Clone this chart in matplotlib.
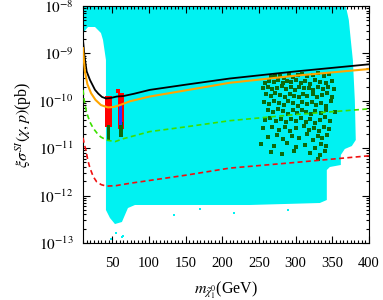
import numpy as np
import matplotlib
matplotlib.use("Agg")
import matplotlib.pyplot as plt
from matplotlib.ticker import MultipleLocator, LogLocator, FixedLocator, NullFormatter

plt.rcParams['font.family'] = ['Liberation Serif', 'DejaVu Serif']
plt.rcParams['mathtext.fontset'] = 'stix'

# ---------------- data (mass in GeV, log10 of sigma in pb) ----------------
# allowed scan region (cyan) outline
region_mass = [10, 368.4, 372.5, 375.2, 378.0, 380.7, 382.0, 376.6, 367.0, 361.6, 361.6,
               346.6, 342.5, 342.5, 333.0, 237.6, 142.2, 80.9, 71.3, 63.1, 53.6, 46.8,
               41.3, 41.3, 37.3, 34.5, 26.4, 16.8, 10]
region_logsig = [-8.0, -8.0, -8.295, -8.717, -9.139, -9.983, -10.827, -10.954, -11.017,
                 -11.143, -11.354, -11.397, -11.46, -12.093, -12.156, -12.198, -12.198,
                 -12.198, -12.262, -12.557, -12.60, -12.473, -12.304, -9.139, -8.717,
                 -8.57, -8.443, -8.443, -8.57]
# isolated scan points below the region
stray_mass = [48.0, 54.5, 63.0, 64.5, 133.5, 216.0, 170.0, 290.0]
stray_logsig = [-12.92, -12.78, -12.87, -12.85, -12.40, -12.36, -12.28, -12.30]

# experimental limits
black_mass = [10, 12, 15, 19.5, 26.4, 30.9, 36, 41.3, 48, 55.9, 65, 80, 101, 150, 210, 300, 400]
black_logsig = [-8.72, -9.05, -9.38, -9.56, -9.77, -9.85, -9.92, -9.95, -9.94, -9.91, -9.90,
                -9.85, -9.77, -9.66, -9.53, -9.38, -9.23]

orange_mass = [10, 11.5, 12.7, 16, 21, 27, 34.5, 44, 52, 60.4, 74, 101, 150, 210, 300, 400]
orange_logsig = [-8.89, -9.20, -9.39, -9.65, -9.84, -9.98, -10.09, -10.14, -10.13, -10.09,
                 -10.01, -9.91, -9.78, -9.62, -9.47, -9.33]

green_mass = [10, 12, 15, 19.5, 24, 29, 34, 42, 54, 65, 101, 150, 210, 300, 400]
green_logsig = [-9.77, -10.02, -10.25, -10.45, -10.58, -10.68, -10.76, -10.83, -10.86, -10.80,
                -10.65, -10.55, -10.42, -10.29, -10.17]

red_mass = [10, 12, 14, 16.5, 19.5, 24, 28.7, 35, 42, 55, 74, 101, 150, 210, 300, 400]
red_logsig = [-10.78, -10.93, -11.04, -11.25, -11.42, -11.60, -11.71, -11.77, -11.80, -11.79,
              -11.74, -11.68, -11.57, -11.42, -11.30, -11.16]

# funnel-region point clusters (vertical bands): mass, low, high
band_mass = [44.7, 61.4]
band_red_low = [-10.55, -10.60]
band_red_high = [-9.90, -9.83]
band_blue_low = [-10.51]
band_blue_high = [-10.09]
band_green_low = [-10.83, -10.76]
band_green_high = [-10.51, -10.45]
red_dot_mass = [57.7]
red_dot_logsig = [-9.79]

# dark green heavy-neutralino points
dg_mass = [266, 272, 279, 284, 291, 297, 303, 309, 316, 323, 330, 338, 346,
           258, 264, 270, 276, 283, 288, 294, 300, 307, 313, 320, 326, 333, 341, 349,
           255, 262, 268, 274, 281, 287, 293, 299, 305, 311, 318, 324, 331, 337, 344, 352,
           260, 266, 272, 279, 285, 292, 298, 304, 310, 316, 323, 329, 336, 343, 350,
           257, 264, 271, 277, 284, 290, 296, 303, 309, 315, 322, 328, 335, 342, 348,
           262, 269, 276, 283, 289, 296, 302, 308, 314, 321, 327, 334, 341, 353,
           258, 265, 273, 280, 287, 294, 301, 307, 314, 320, 327, 333, 340, 347,
           255, 268, 277, 285, 292, 300, 311, 318, 325, 332, 338, 345,
           262, 274, 283, 295, 305, 316, 323, 330, 336, 343,
           253, 270, 288, 300, 313, 326, 334, 341,
           266, 282, 298, 320, 333, 340, 331]
dg_logsig = [-9.50, -9.45, -9.47, -9.52, -9.44, -9.49, -9.46, -9.43, -9.48, -9.45, -9.42, -9.47, -9.44,
             -9.62, -9.58, -9.60, -9.56, -9.63, -9.58, -9.61, -9.57, -9.62, -9.59, -9.64, -9.57, -9.60, -9.63, -9.58,
             -9.74, -9.70, -9.76, -9.72, -9.69, -9.75, -9.71, -9.77, -9.70, -9.74, -9.72, -9.78, -9.71, -9.75, -9.70, -9.76,
             -9.86, -9.90, -9.84, -9.88, -9.92, -9.85, -9.89, -9.93, -9.86, -9.90, -9.85, -9.92, -9.88, -9.84, -9.91,
             -10.02, -10.06, -10.00, -10.04, -10.09, -10.01, -10.05, -10.10, -10.03, -10.07, -10.02, -10.08, -10.04, -10.10, -10.01,
             -10.20, -10.24, -10.18, -10.22, -10.27, -10.20, -10.25, -10.19, -10.23, -10.28, -10.21, -10.26, -10.19, -10.24,
             -10.40, -10.36, -10.43, -10.38, -10.45, -10.39, -10.42, -10.36, -10.44, -10.38, -10.46, -10.40, -10.35, -10.43,
             -10.58, -10.55, -10.61, -10.56, -10.63, -10.58, -10.54, -10.62, -10.57, -10.64, -10.55, -10.60,
             -10.76, -10.72, -10.80, -10.74, -10.78, -10.71, -10.82, -10.75, -10.79, -10.73,
             -10.92, -10.95, -10.90, -10.97, -10.93, -10.99, -10.91, -10.96,
             -11.08, -11.12, -11.06, -11.10, -11.14, -11.05, -11.22]

xticks = [50, 100, 150, 200, 250, 300, 350, 400]
yticks = [1e-13, 1e-12, 1e-11, 1e-10, 1e-9, 1e-8]
ytick_labels = [r'$10^{-13}$', r'$10^{-12}$', r'$10^{-11}$', r'$10^{-10}$', r'$10^{-9}$', r'$10^{-8}$']

def p(v):
    return 10.0 ** np.asarray(v)

# ---------------- figure ----------------
fig = plt.figure(figsize=(3.83, 3.0), dpi=100)
ax = fig.add_axes([0.2167, 0.19, 0.7467, 0.79])
ax.set_yscale('log')

cyan = '#00F2F2'
ax.fill(region_mass, p(region_logsig), color=cyan, lw=0, zorder=1)
ax.scatter(stray_mass, p(stray_logsig), s=4, color=cyan, marker='s', lw=0, zorder=1)

ax.scatter(dg_mass, p(dg_logsig), s=5, color='#0D6A0D', marker='s', lw=0, zorder=2)

ax.plot(black_mass, p(black_logsig), color='black', lw=1.3, zorder=4)
ax.plot(orange_mass, p(orange_logsig), color='#FFA500', lw=1.5, zorder=4)
ax.plot(green_mass, p(green_logsig), color='#3CE000', lw=1.2, ls=(0, (3, 2)), zorder=4)
ax.plot(red_mass, p(red_logsig), color='#F01010', lw=1.2, ls=(0, (3, 2)), zorder=4)

lo = p(band_red_low); hi = p(band_red_high)
ax.bar(band_mass, hi - lo, bottom=lo, width=8.5, color='red', lw=0, zorder=3)
lo = p(band_green_low); hi = p(band_green_high)
ax.bar(band_mass, hi - lo, bottom=lo, width=5.0, color='#0D6A0D', lw=0, zorder=3)
lo = p(band_blue_low); hi = p(band_blue_high)
ax.bar(band_mass[1:], hi - lo, bottom=lo, width=4.5, color='#1E3CFF', lw=0, zorder=3)
ax.scatter(red_dot_mass, p(red_dot_logsig), s=6, color='red', marker='s', lw=0, zorder=3)

ax.set_xlim(10, 400)
ax.set_ylim(1e-13, 1e-8)

ax.set_xticks(xticks)
ax.set_xticklabels([str(t) for t in xticks], fontsize=10.5)
ax.xaxis.set_minor_locator(MultipleLocator(5))
ax.yaxis.set_major_locator(FixedLocator(yticks))
ax.set_yticklabels(ytick_labels, fontsize=11)
ax.yaxis.set_minor_locator(LogLocator(base=10, subs=np.arange(2, 10)))
ax.yaxis.set_minor_formatter(NullFormatter())
ax.tick_params(which='both', direction='in', top=True, right=True, width=0.8)
ax.tick_params(which='major', length=5)
ax.tick_params(axis='x', which='major', pad=10)
ax.tick_params(axis='y', which='major', pad=7)
ax.tick_params(which='minor', length=2.5)
for s in ax.spines.values():
    s.set_linewidth(0.8)

ax.set_xlabel(r'$m_{\tilde{\chi}_1^0}$(GeV)', fontsize=11.5, labelpad=7)
ax.set_ylabel(r'$\xi\sigma^{SI}(\chi, p)$(pb)', fontsize=11.5, labelpad=3)

fig.savefig('out.png', dpi=100)
